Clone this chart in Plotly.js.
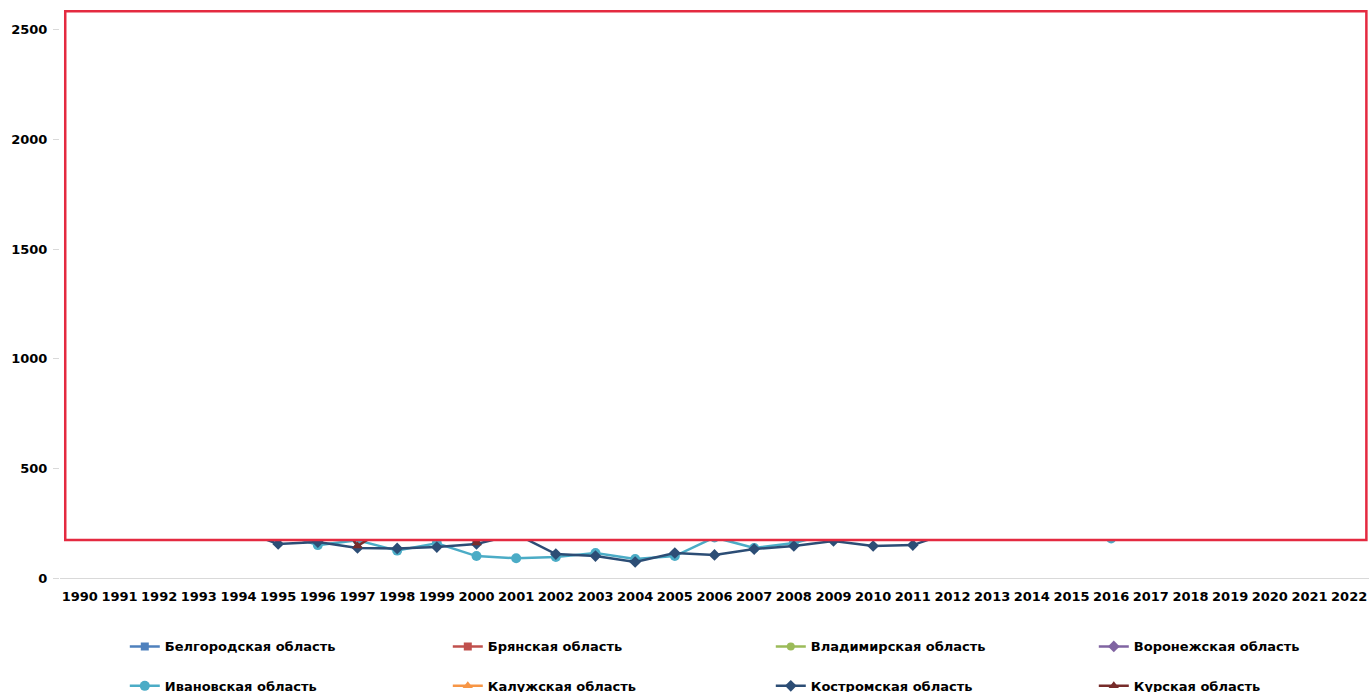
<!DOCTYPE html>
<html><head><meta charset="utf-8">
<script src="https://cdn.plot.ly/plotly-3.0.1.min.js"></script>
<style>html,body{margin:0;padding:0;background:#fff}#chart{width:1370px;height:692px}</style>
</head><body><div id="chart"></div>
<script>
const years = ['1990','1991','1992','1993','1994','1995','1996','1997','1998','1999','2000','2001','2002','2003','2004','2005','2006','2007','2008','2009','2010','2011','2012','2013','2014','2015','2016','2017','2018','2019','2020','2021','2022'];
const seriesNames = ['Белгородская область','Брянская область','Владимирская область','Воронежская область','Ивановская область','Калужская область','Костромская область','Курская область'];
// values hidden behind the framed box are estimates
const belgorod  = [640,655,612,590,563,541,527,508,497,505,522,538,561,574,592,608,633,648,671,689,712,728,747,761,779,802,818,836,851,868,884,893,910];
const bryansk   = [1850,1920,2010,2080,2150,2230,2290,2340,2390,2410,2380,2350,2300,2260,2210,2180,2140,2100,2070,2040,2010,1980,1950,1930,1900,1880,1860,1840,1820,1800,1780,1760,1740];
const vladimir  = [410,398,376,352,331,315,302,296,288,281,276,270,268,272,275,281,290,297,305,312,318,322,330,336,341,347,352,358,363,369,374,380,385];
const voronezh  = [980,1010,1040,1065,1090,1110,1125,1140,1150,1160,1165,1170,1172,1168,1160,1155,1150,1142,1135,1128,1120,1112,1105,1098,1090,1082,1075,1068,1060,1053,1046,1040,1034];
const ivanovo   = [420,392,351,302,261,212,150,172,125,158,100,90,96,114,87,100,185,137,160,205,212,221,229,238,233,219,180,229,248,261,272,281,292];
const kaluga    = [520,508,490,470,452,436,420,405,392,380,372,366,362,360,362,366,372,380,388,396,404,412,420,428,436,444,452,460,468,476,484,492,500];
const kostroma  = [302,291,268,251,222,155,164,137,135,141,155,200,109,100,73,114,105,132,146,169,146,150,212,221,231,239,248,244,258,271,279,291,302];
const kursk     = [760,735,702,664,621,575,410,146,260,290,160,320,350,372,390,405,420,432,445,456,468,480,492,503,514,525,536,547,558,569,580,591,602];

const values  = [belgorod, bryansk, vladimir, voronezh, ivanovo, kaluga, kostroma, kursk];
const colors  = ['#4F81BD','#C0504D','#9BBB59','#8064A2','#4BACC6','#F79646','#2C4D75','#772C2A'];
const symbols = ['square','square','circle','diamond','circle','triangle-up','diamond','triangle-up'];
const msizes  = [8,8,8,9,10,9,9,9];

const traces = values.map((v, i) => ({
  type: 'scatter', mode: 'lines+markers',
  x: years, y: v, name: seriesNames[i],
  line: {color: colors[i], width: 2.5},
  marker: {color: colors[i], symbol: symbols[i], size: msizes[i]},
  legend: i < 4 ? 'legend' : 'legend2'
}));

const font = {family: 'DejaVu Sans, Verdana, sans-serif', size: 13, color: '#000', weight: 'bold'};
const legendCommon = {orientation: 'h', x: 0.0495, xanchor: 'left', yanchor: 'middle', entrywidth: 278, entrywidthmode: 'pixels', font: {family: font.family, size: 13, color: '#000', weight: 'bold'}, bgcolor: 'rgba(0,0,0,0)'};

const layout = {
  width: 1370, height: 692,
  margin: {l: 60, r: 1, t: 10, b: 114, autoexpand: false},
  paper_bgcolor: '#fff', plot_bgcolor: '#fff',
  font: font,
  showlegend: true,
  xaxis: {type: 'category', range: [-0.5, 32.5], showgrid: false, zeroline: false, showline: true, linecolor: '#D9D9D9', linewidth: 1, ticks: '', ticklabelstandoff: 6, tickfont: font, fixedrange: true},
  yaxis: {range: [0, 2590], tickvals: [0,500,1000,1500,2000,2500], showgrid: false, zeroline: false, showline: false, ticks: 'outside', ticklen: 6, tickcolor: '#D9D9D9', tickfont: font, ticklabelstandoff: 3, fixedrange: true},
  legend: Object.assign({}, legendCommon, {y: -0.1205}),
  legend2: Object.assign({}, legendCommon, {y: -0.190}),
  shapes: [{type: 'rect', xref: 'paper', yref: 'paper', x0: 0.004, x1: 0.998, y0: 0.0669, y1: 0.998, line: {color: '#E42A40', width: 2.5}, fillcolor: '#fff', layer: 'above'}]
};

Plotly.newPlot('chart', traces, layout, {displayModeBar: false, staticPlot: true});
</script>
</body></html>
